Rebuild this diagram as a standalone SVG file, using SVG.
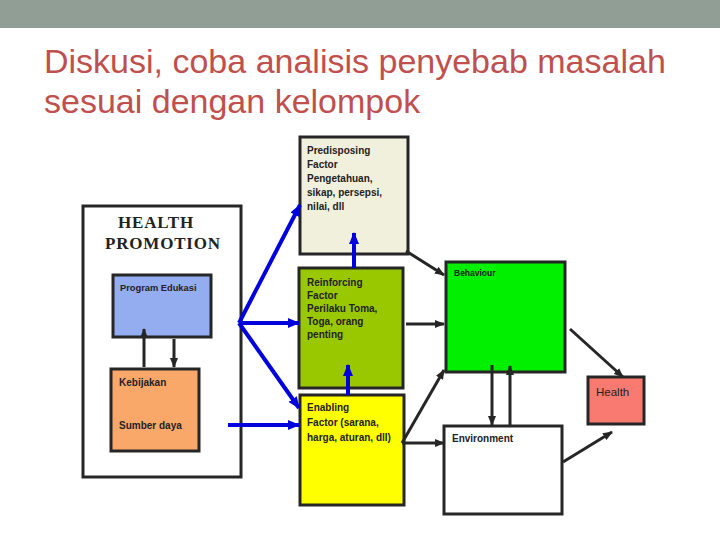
<svg xmlns="http://www.w3.org/2000/svg" width="720" height="540" viewBox="0 0 720 540">
<style>
.box{stroke:#262626;stroke-width:3}
.t{font-family:"Liberation Sans",Arial,sans-serif;font-weight:bold;font-size:10px;fill:#222}
.title{font-family:"Liberation Sans",Arial,sans-serif;font-size:34px;fill:#c0504d}
.hp{font-family:"Liberation Serif","Times New Roman",serif;font-weight:bold;font-size:17px;fill:#222;letter-spacing:0.8px}
.blue{stroke:#0000dd;stroke-width:4;fill:none;marker-end:url(#ab)}
.dark{stroke:#262626;stroke-width:3;fill:none;marker-end:url(#ad)}
</style>
<defs>
<marker id="ab" markerUnits="userSpaceOnUse" markerWidth="12" markerHeight="10" refX="11" refY="5" orient="auto"><path d="M0,0 L12,5 L0,10 Z" fill="#0000dd"/></marker>
<marker id="ad" markerUnits="userSpaceOnUse" markerWidth="10" markerHeight="8" refX="9" refY="4" orient="auto"><path d="M0,0 L10,4 L0,8 Z" fill="#262626"/></marker>
</defs>
<rect x="0" y="0" width="720" height="540" fill="#ffffff"/>
<rect x="0" y="0" width="720" height="28" fill="#919e95"/>
<text class="title" x="44" y="73">Diskusi, coba analisis penyebab masalah</text>
<text class="title" x="44" y="113">sesuai dengan kelompok</text>

<g id="health-promotion">
<rect class="box" x="83" y="206" width="158" height="271" fill="#ffffff"/>
<text class="hp" x="118" y="228">HEALTH</text>
<text class="hp" x="105" y="249">PROMOTION</text>
</g>
<g id="program-edukasi">
<rect class="box" x="113" y="275" width="98" height="62" fill="#94acf0"/>
<text class="t" x="120" y="291" style="font-size:9.3px">Program Edukasi</text>
</g>
<g id="kebijakan">
<rect class="box" x="111" y="369" width="88" height="82" fill="#f9a86a"/>
<text class="t" x="119" y="386">Kebijakan</text>
<text class="t" x="119" y="429">Sumber daya</text>
</g>
<g id="predisposing">
<rect class="box" x="300" y="137" width="108" height="117" fill="#f1f0dd"/>
<text class="t" x="307" y="154">Predisposing</text>
<text class="t" x="307" y="168">Factor</text>
<text class="t" x="307" y="182">Pengetahuan,</text>
<text class="t" x="307" y="196">sikap, persepsi,</text>
<text class="t" x="307" y="210">nilai, dll</text>
</g>
<g id="reinforcing">
<rect class="box" x="299" y="268" width="104" height="120" fill="#99c800"/>
<text class="t" x="307" y="286">Reinforcing</text>
<text class="t" x="307" y="299">Factor</text>
<text class="t" x="307" y="312">Perilaku Toma,</text>
<text class="t" x="307" y="325">Toga, orang</text>
<text class="t" x="307" y="338">penting</text>
</g>
<g id="enabling">
<rect class="box" x="300" y="395" width="104" height="110" fill="#ffff00"/>
<text class="t" x="307" y="411">Enabling</text>
<text class="t" x="307" y="426">Factor (sarana,</text>
<text class="t" x="307" y="441">harga, aturan, dll)</text>
</g>
<g id="behaviour">
<rect class="box" x="446" y="262" width="119" height="110" fill="#00f000"/>
<text class="t" x="454" y="276" style="font-size:8.5px">Behaviour</text>
</g>
<g id="health">
<rect class="box" x="588" y="377" width="56" height="47" fill="#f97a70"/>
<text class="t" x="596" y="396" style="font-size:11.5px;font-weight:normal">Health</text>
</g>
<g id="environment">
<rect class="box" x="444" y="426" width="118" height="88" fill="#ffffff"/>
<text class="t" x="452" y="442">Environment</text>
</g>

<g id="connectors">
<line class="dark" x1="144" y1="367" x2="144" y2="329"/>
<line class="dark" x1="174" y1="339" x2="174" y2="367"/>
<line class="blue" x1="239" y1="323" x2="300" y2="205"/>
<line class="blue" x1="239" y1="323" x2="299" y2="323"/>
<line class="blue" x1="239" y1="323" x2="299" y2="408"/>
<line class="blue" x1="228" y1="425" x2="299" y2="425"/>
<line class="blue" x1="348" y1="395" x2="348" y2="365"/>
<line class="blue" x1="354" y1="268" x2="354" y2="233"/>
<line class="dark" x1="406" y1="251" x2="444" y2="275"/>
<line class="dark" x1="406" y1="324" x2="444" y2="324"/>
<line class="dark" x1="402" y1="443" x2="444" y2="370"/>
<line class="dark" x1="402" y1="443" x2="444" y2="443"/>
<line class="dark" x1="492" y1="365" x2="492" y2="425"/>
<line class="dark" x1="510" y1="425" x2="510" y2="366"/>
<line class="dark" x1="570" y1="329" x2="623" y2="377"/>
<line class="dark" x1="563" y1="462" x2="612" y2="432"/>
</g>
</svg>
